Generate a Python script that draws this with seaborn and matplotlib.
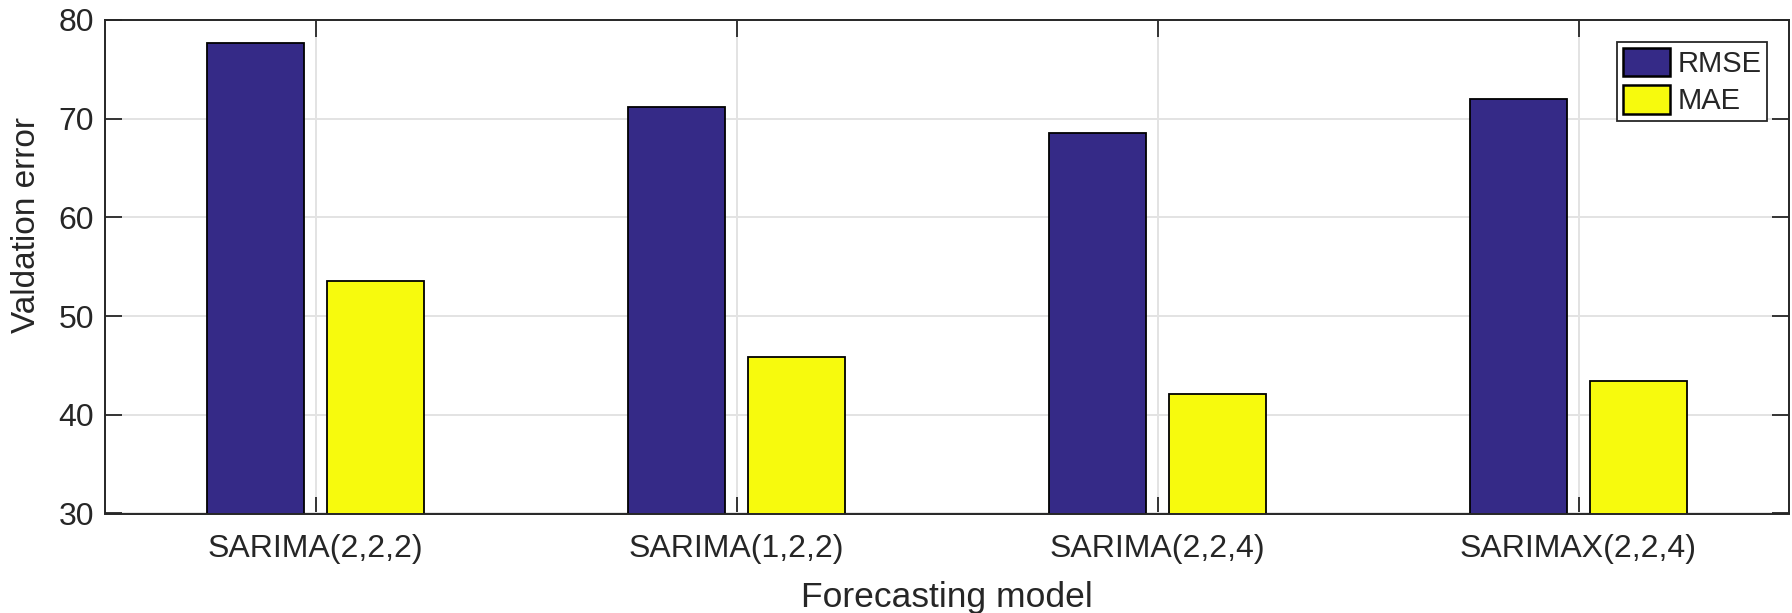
import matplotlib
matplotlib.use("Agg")
import matplotlib.pyplot as plt
import pandas as pd
import seaborn as sns

# Validation errors per forecasting model
models = ["SARIMA(2,2,2)", "SARIMA(1,2,2)", "SARIMA(2,2,4)", "SARIMAX(2,2,4)"]
rmse = [77.7, 71.2, 68.6, 72.0]
mae = [53.6, 45.9, 42.1, 43.4]
metrics = ["RMSE", "MAE"]
colors = ["#352A87", "#F7FA0D"]
y_ticks = [30, 40, 50, 60, 70, 80]

df = pd.DataFrame({
    "model": models * 2,
    "metric": [metrics[0]] * len(models) + [metrics[1]] * len(models),
    "value": rmse + mae,
})

sns.set_theme(style="white")
plt.rcParams["font.family"] = ["Liberation Sans", "DejaVu Sans"]

dark = "#262626"
fig = plt.figure(figsize=(17.92, 6.13), dpi=100)
ax = fig.add_axes([105 / 1792, 1 - 513.5 / 613, (1789 - 105) / 1792, (513.5 - 20) / 613])

sns.barplot(
    data=df, x="model", y="value", hue="metric",
    order=models, hue_order=metrics, palette=colors,
    width=0.57, gap=0.19, edgecolor="black", linewidth=1.3,
    saturation=1, ax=ax, zorder=3,
)

ax.set_xlim(-0.5, len(models) - 0.5)
ax.set_ylim(30, 80)
ax.set_yticks(y_ticks)
ax.set_xticks(range(len(models)))
ax.set_xticklabels(models)

ax.set_axisbelow(True)
ax.grid(True, axis="both", color="#E3E3E3", linewidth=1.4)

for s in ax.spines.values():
    s.set_visible(True)
    s.set_color(dark)
    s.set_linewidth(1.4)
    s.set_zorder(5)

ax.tick_params(axis="both", which="major", direction="in", length=12, width=1.3,
               color=dark, labelcolor=dark, labelsize=23,
               top=True, right=True, bottom=True, left=True)
ax.tick_params(axis="y", pad=8)
ax.tick_params(axis="x", pad=15)

ax.set_xlabel("Forecasting model", fontsize=25.5, color=dark, labelpad=12)
ax.set_ylabel("Valdation error", fontsize=24, color=dark)
ax.yaxis.set_label_coords(-0.0372, 0.585)

leg = ax.legend(
    loc="upper right", bbox_to_anchor=(1.0, 1.0), borderaxespad=0.75,
    fontsize=21, frameon=True, fancybox=False, framealpha=1,
    edgecolor=dark, handlelength=1.6, handleheight=1.14,
    handletextpad=0.25, labelspacing=0.24, borderpad=0.2,
)
leg.get_frame().set_linewidth(1.3)
for h in leg.legend_handles:
    h.set_edgecolor("black")
    h.set_linewidth(1.8)

fig.savefig("out.png", dpi=100)
